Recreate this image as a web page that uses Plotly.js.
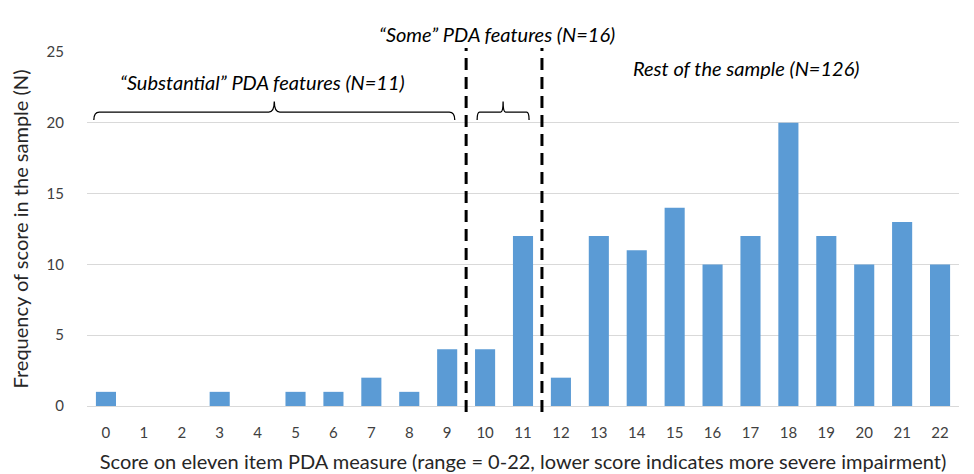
<!DOCTYPE html>
<html>
<head>
<meta charset="utf-8">
<script src="https://cdn.plot.ly/plotly-3.0.1.min.js"></script>
<style>html,body{margin:0;padding:0;background:#fff;}#chart{width:974px;height:474px;}</style>
</head>
<body>
<div id="chart"></div>
<script>
const scores = [0,1,2,3,4,5,6,7,8,9,10,11,12,13,14,15,16,17,18,19,20,21,22];
const frequency = [1,0,0,1,0,1,1,2,1,4,4,12,2,12,11,14,10,12,20,12,10,13,10];
const yTicks = [0,5,10,15,20,25];
const groupLabels = ['\u201cSubstantial\u201d PDA features (N=11)', '\u201cSome\u201d PDA features (N=16)', 'Rest of the sample (N=126)'];
const cutoffs = [9.5, 11.5];

const FONT = 'Lato, "Open Sans", sans-serif';

function brace(x0, x1, yb, ytop, yend) {
  const xm = (x0 + x1) / 2;
  const d = (x1 - x0) * 0.01 + 0.05;
  return 'M ' + x0 + ',' + yend + ' Q ' + x0 + ',' + yb + ' ' + (x0 + d) + ',' + yb +
         ' L ' + (xm - d) + ',' + yb + ' Q ' + xm + ',' + yb + ' ' + xm + ',' + ytop +
         ' Q ' + xm + ',' + yb + ' ' + (xm + d) + ',' + yb +
         ' L ' + (x1 - d) + ',' + yb + ' Q ' + x1 + ',' + yb + ' ' + x1 + ',' + yend;
}

const shapes = cutoffs.map(c => ({
  type: 'line', xref: 'x', yref: 'paper', x0: c, x1: c, y0: -0.017, y1: 1.011,
  line: {color: '#000', width: 3, dash: '12px,7px'}
}));
shapes.push({type: 'path', xref: 'x', yref: 'y', path: brace(-0.32, 9.2, 20.76, 21.5, 20.2), line: {color: '#000', width: 1.3}});
shapes.push({type: 'path', xref: 'x', yref: 'y', path: brace(9.79, 11.16, 20.76, 21.5, 20.2), line: {color: '#000', width: 1.3}});

const data = [{
  type: 'bar', x: scores, y: frequency,
  marker: {color: '#5B9BD5'}, hoverinfo: 'x+y'
}];

const layout = {
  width: 974, height: 474,
  margin: {l: 87, r: 15, t: 52, b: 68},
  paper_bgcolor: '#fff', plot_bgcolor: '#fff',
  bargap: 0.47,
  showlegend: false,
  font: {family: FONT, color: '#404040', size: 15},
  xaxis: {
    range: [-0.5, 22.5], tickmode: 'array', tickvals: scores, ticktext: scores.map(String),
    showgrid: false, zeroline: false, showline: false, ticks: '',
    ticklabelstandoff: 16,
    tickfont: {size: 15, color: '#404040'},
    title: {text: 'Score on eleven item PDA measure (range = 0-22, lower score indicates more severe impairment)', font: {size: 20, color: '#262626'}, standoff: 14}
  },
  yaxis: {
    range: [0, 25], tickmode: 'array', tickvals: yTicks,
    showgrid: true, gridcolor: '#d9d9d9', gridwidth: 1, zeroline: true, zerolinecolor: '#d9d9d9',
    showline: false, ticks: '', ticklabelstandoff: 22,
    tickfont: {size: 15, color: '#404040'},
    title: {text: 'Frequency of score in the sample (N)', font: {size: 20, color: '#262626'}, standoff: 12}
  },
  shapes: shapes,
  annotations: [
    {xref: 'x', yref: 'y', x: 4.14, y: 22.88, text: '<i>' + groupLabels[0] + '</i>', showarrow: false, font: {size: 20, color: '#000'}},
    {xref: 'x', yref: 'paper', x: 10.32, y: 1.09, text: '<i>' + groupLabels[1] + '</i>', showarrow: false, font: {size: 20, color: '#000'}},
    {xref: 'x', yref: 'y', x: 16.89, y: 23.87, text: '<i>' + groupLabels[2] + '</i>', showarrow: false, font: {size: 20, color: '#000'}}
  ]
};

Plotly.newPlot('chart', data, layout, {displayModeBar: false, staticPlot: true});
</script>
</body>
</html>
